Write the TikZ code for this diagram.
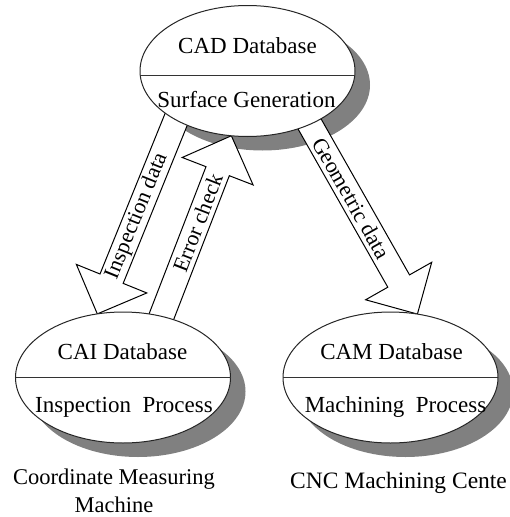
\documentclass[tikz,border=0pt]{standalone}
\usepackage{fontspec}
\setmainfont{Liberation Serif}
\usetikzlibrary{calc,shapes.geometric}
\pgfdeclarelayer{shadowlayer}
\pgfdeclarelayer{arrowlayer}
\pgfsetlayers{shadowlayer,arrowlayer,main}
\newcommand{\blockarrow}[2]{%
  \coordinate (#1h) at ($(#2)!38pt!(#1)$);
  \draw[arrowbody] ($(#1)!12.5pt!90:(#2)$) -- ($(#1h)!12.5pt!90:(#2)$)
    -- ($(#1h)!38pt!90:(#2)$) -- (#2) -- ($(#1h)!38pt!-90:(#2)$)
    -- ($(#1h)!12.5pt!-90:(#2)$) -- ($(#1)!12.5pt!-90:(#2)$) -- cycle;}
\begin{document}
\begin{tikzpicture}[x=1pt,y=-1pt,
  db/.style={ellipse,draw=black!85,line width=1pt,fill=white,minimum width=215pt,minimum height=131pt,inner sep=0pt,outer sep=0pt},
  dbtext/.style={font=\fontsize{23}{27}\selectfont,inner sep=0pt},
  divider/.style={draw=black!80,line width=1pt},
  shadowfill/.style={fill=black!50},
  arrowbody/.style={draw=black,line width=1pt,fill=white,line join=miter},
  arrowtext/.style={font=\fontsize{22}{26}\selectfont,inner sep=0pt,sloped},
  caption/.style={font=\fontsize{22.5}{28}\selectfont,align=center,inner sep=0pt}]
\useasboundingbox (0,0) rectangle (509,517);
% database ellipses
\node[db] (cad) at (247.5,71) {};
\node[db] (cai) at (123,377.5) {};
\node[db] (cam) at (390.5,377.5) {};
% dividers
\draw[divider] ($(cad.center)+(-107.2,4.5)$) -- ($(cad.center)+(107.2,4.5)$);
\draw[divider] (cai.west) -- (cai.east);
\draw[divider] (cam.west) -- (cam.east);
% texts
\node[dbtext] (cadtop) at ($(cad.center)+(0,-25)$) {CAD Database};
\node[dbtext] (cadbot) at ($(cad.center)+(-1,29)$) {Surface Generation};
\node[dbtext] (caitop) at ($(cai.center)+(-0.5,-25.5)$) {CAI Database};
\node[dbtext] (caibot) at ($(cai.center)+(1,29.5)$) {Inspection~~Process};
\node[dbtext] (camtop) at ($(cam.center)+(1,-25.5)$) {CAM Database};
\node[dbtext] (cambot) at ($(cam.center)+(5,29.5)$) {Machining~~Process};
% shadows
\begin{pgfonlayer}{shadowlayer}
\fill[shadowfill] ([shift={(15,14)}]cad.center) ellipse [x radius=107.5, y radius=65.5];
\fill[shadowfill] ([shift={(15,14)}]cai.center) ellipse [x radius=107.5, y radius=65.5];
\fill[shadowfill] ([shift={(15,14)}]cam.center) ellipse [x radius=107.5, y radius=65.5];
\end{pgfonlayer}
% arrows
\coordinate (insS) at (182.6,103.5);
\coordinate (insE) at (cai.112);
\coordinate (errS) at (154.8,333.7);
\coordinate (errE) at (cad.-104);
\coordinate (geoS) at (302,110.6);
\coordinate (geoE) at (cam.67);
\begin{pgfonlayer}{arrowlayer}
\blockarrow{insS}{insE}
\blockarrow{errS}{errE}
\blockarrow{geoS}{geoE}
\path (insS) -- (insE) node[arrowtext,pos=0.535] (instext) {Inspection data};
\path (errS) -- (errE) node[arrowtext,pos=0.56] (errtext) {Error check};
\path (geoS) -- (geoE) node[arrowtext,pos=0.43] (geotext) {Geometric data};
\end{pgfonlayer}
% captions
\node[caption] (cmm) at (114,491) {Coordinate Measuring\\Machine};
\node[caption,anchor=west,font=\fontsize{23.5}{28}\selectfont] (cnc) at (290,483) {CNC Machining Cente};
\end{tikzpicture}
\end{document}
